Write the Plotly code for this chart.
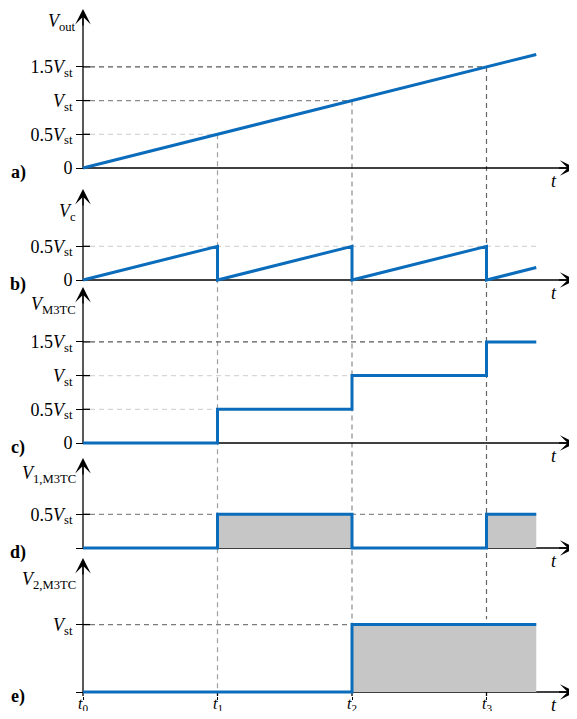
import plotly.graph_objects as go

# ---------------- data ----------------
t_ticks = [0, 1, 2, 3]
t_tick_labels = ["<i>t</i><sub>0</sub>", "<i>t</i><sub>1</sub>", "<i>t</i><sub>2</sub>", "<i>t</i><sub>3</sub>"]
t_end = 3.37

vout_t = [0, 3.37]
vout_v = [0, 1.685]

vc_t = [0, 1, 1, 2, 2, 3, 3, 3.37]
vc_v = [0, 0.5, 0, 0.5, 0, 0.5, 0, 0.185]

vm_t = [0, 1, 1, 2, 2, 3, 3, 3.37]
vm_v = [0, 0, 0.5, 0.5, 1, 1, 1.5, 1.5]

v1_t = [0, 1, 1, 2, 2, 3, 3, 3.37]
v1_v = [0, 0, 0.5, 0.5, 0, 0, 0.5, 0.5]

v2_t = [0, 2, 2, 3.37]
v2_v = [0, 0, 1, 1]

VST = "<i>V</i><sub>st</sub>"
ytick_vals = [[0, 0.5, 1, 1.5], [0, 0.5], [0, 0.5, 1, 1.5], [0, 0.5], [0, 1]]
ytick_text = [["0", "0.5" + VST, VST, "1.5" + VST],
              ["0", "0.5" + VST],
              ["0", "0.5" + VST, VST, "1.5" + VST],
              ["", "0.5" + VST],
              ["", VST]]
y_titles = ["<i>V</i><sub>out</sub>", "<i>V</i><sub>c</sub>", "<i>V</i><sub>M3TC</sub>",
            "<i>V</i><sub>1,M3TC</sub>", "<i>V</i><sub>2,M3TC</sub>"]
panel_labels = ["a)", "b)", "c)", "d)", "e)"]

# ---------------- geometry (page pixels; the page body adds an 8px margin) ----------------
OFF = 8
PAGE_W, PAGE_H = 577, 719
W, H = PAGE_W - OFF, PAGE_H - 2 * OFF
L_PAGE = 70
T0PX = 83
PXT = 134.5
PXV = 67.4
PAD = 4
zero_px = [168, 280, 443, 548, 692]
top_px = [8, 186, 285, 455, 556]
tip_px = [9, 189, 287, 458, 558]
title_px = [22, 212, 305, 474, 580]

xr = [(L_PAGE - T0PX) / PXT, (PAGE_W - T0PX) / PXT]
xtip = (PAGE_W - 1.5 - T0PX) / PXT
PW = PAGE_W - L_PAGE
ypos = (T0PX - L_PAGE) / PW

BLUE = "#0a6cbb"
GRAY = "#c6c6c6"
FONT = "Liberation Serif"
FS = 18

yrefs = ["y", "y2", "y3", "y4", "y5"]
ykeys = ["yaxis", "yaxis2", "yaxis3", "yaxis4", "yaxis5"]

def pg_to_paper_y(py):
    return min(1.0, max(0.0, 1 - (py - OFF) / H))

def paper_y(i, v):
    return pg_to_paper_y(zero_px[i] - v * PXV)

def pg_to_paper_x(px):
    return (px - L_PAGE) / PW

fig = go.Figure()

series = [(vout_t, vout_v, None), (vc_t, vc_v, None), (vm_t, vm_v, None),
          (v1_t, v1_v, "tozeroy"), (v2_t, v2_v, "tozeroy")]
for i, (tx, vy, fill) in enumerate(series):
    kw = {}
    if fill:
        kw = dict(fill=fill, fillcolor=GRAY)
    fig.add_trace(go.Scatter(x=tx, y=vy, mode="lines", xaxis="x", yaxis=yrefs[i],
                             line=dict(color=BLUE, width=3), showlegend=False,
                             hoverinfo="skip", **kw))

layout = dict(template="none", width=W, height=H,
              margin=dict(l=L_PAGE - OFF, r=0, t=0, b=0, autoexpand=False),
              plot_bgcolor="white", paper_bgcolor="white", showlegend=False)
layout["xaxis"] = dict(range=xr, anchor="y5", showline=False, showgrid=False, zeroline=False,
                       automargin=False, tickvals=t_ticks, showticklabels=False,
                       ticks="outside", ticklen=3, tickwidth=1.3, tickcolor="black",
                       fixedrange=True)
for i in range(5):
    lo = -PAD / PXV
    hi = (zero_px[i] - top_px[i]) / PXV
    layout[ykeys[i]] = dict(domain=[pg_to_paper_y(zero_px[i] + PAD), pg_to_paper_y(top_px[i])],
                            range=[lo, hi], anchor="free", position=ypos, automargin=False,
                            showline=False, showgrid=False, zeroline=False,
                            tickvals=ytick_vals[i], ticktext=ytick_text[i],
                            ticks="outside", ticklen=7, tickwidth=1.3, tickcolor="black",
                            tickfont=dict(family=FONT, size=FS, color="black"),
                            fixedrange=True)
fig.update_layout(**layout)

shapes = []
for i in range(5):
    tipv = (zero_px[i] - tip_px[i]) / PXV
    shapes.append(dict(type="line", xref="x", yref=yrefs[i], x0=0, x1=xtip - 8 / PXT, y0=0, y1=0,
                       line=dict(color="black", width=1.3), layer="below"))
    shapes.append(dict(type="line", xref="x", yref=yrefs[i], x0=0, x1=0, y0=0, y1=tipv - 0.1,
                       line=dict(color="black", width=1.3), layer="below"))
    for v in ytick_vals[i]:
        if v != 0:
            shapes.append(dict(type="line", xref="x", yref=yrefs[i], x0=0, x1=7 / PXT, y0=v, y1=v,
                               line=dict(color="black", width=1.3), layer="below"))
for tk in t_ticks:
    shapes.append(dict(type="line", xref="x", yref="y5", x0=tk, x1=tk, y0=0, y1=-PAD / PXV,
                       line=dict(color="black", width=1.3), layer="below"))

DASH = "5px,4px"
LIGHT, MID, DARK = "#d6d6d6", "#8a8a8a", "#5a5a5a"
hdash = [
    (0, 0.5, t_ticks[1], LIGHT), (0, 1.0, t_ticks[2], MID), (0, 1.5, t_ticks[3], DARK),
    (1, 0.5, t_end, LIGHT),
    (2, 0.5, t_ticks[1], LIGHT), (2, 1.0, t_ticks[2], LIGHT), (2, 1.5, t_ticks[3], DARK),
    (3, 0.5, t_ticks[3], MID),
    (4, 1.0, t_ticks[2], "#7a7a7a"),
]
for (i, v, xe, col) in hdash:
    shapes.append(dict(type="line", xref="x", yref=yrefs[i], x0=7 / PXT, x1=xe, y0=v, y1=v,
                       line=dict(color=col, width=1.2, dash=DASH), layer="below"))

vdash = [
    (t_ticks[1], paper_y(0, 0.5), paper_y(4, 0), "#a0a0a0"),
    (t_ticks[2], paper_y(0, 1.0), paper_y(4, 0), "#8a8a8a"),
    (t_ticks[3], paper_y(0, 1.5), paper_y(4, 1.08), "#666666"),
]
for (xt, y0, y1, col) in vdash:
    shapes.append(dict(type="line", xref="x", yref="paper", x0=xt, x1=xt, y0=y0, y1=y1,
                       line=dict(color=col, width=1.2, dash=DASH), layer="below"))
fig.update_layout(shapes=shapes)

ann = []
for i in range(5):
    tipv = (zero_px[i] - tip_px[i]) / PXV
    ann.append(dict(x=xtip, y=0, ax=-18, ay=0, xref="x", yref=yrefs[i],
                    text="", showarrow=True, arrowhead=3,
                    arrowsize=2.0, arrowwidth=1.3, arrowcolor="black", standoff=0))
    ann.append(dict(x=0, y=tipv, ax=0, ay=18, xref="x", yref=yrefs[i],
                    text="", showarrow=True, arrowhead=3,
                    arrowsize=2.0, arrowwidth=1.3, arrowcolor="black", standoff=0))
    ann.append(dict(x=pg_to_paper_x(78), y=(zero_px[i] - title_px[i]) / PXV, xref="paper",
                    yref=yrefs[i], text=y_titles[i], showarrow=False, xanchor="right",
                    yanchor="middle", font=dict(family=FONT, size=FS, color="black")))
    ann.append(dict(x=pg_to_paper_x(18), y=0, yshift=-4, xref="paper", yref=yrefs[i],
                    text="<b>" + panel_labels[i] + "</b>", showarrow=False, xanchor="center",
                    yanchor="middle", font=dict(family=FONT, size=FS, color="black")))
    ann.append(dict(x=(554 - T0PX) / PXT, y=0, yshift=-13, xref="x", yref=yrefs[i],
                    text="<i>t</i>", showarrow=False, xanchor="center", yanchor="middle",
                    font=dict(family=FONT, size=FS, color="black")))
for tk, lab in zip(t_ticks, t_tick_labels):
    ann.append(dict(x=tk, y=0, yshift=-12, xref="x", yref="y5", text=lab, showarrow=False,
                    xanchor="center", yanchor="middle",
                    font=dict(family=FONT, size=16, color="black")))
fig.update_layout(annotations=ann)

fig.write_html("out.html")
